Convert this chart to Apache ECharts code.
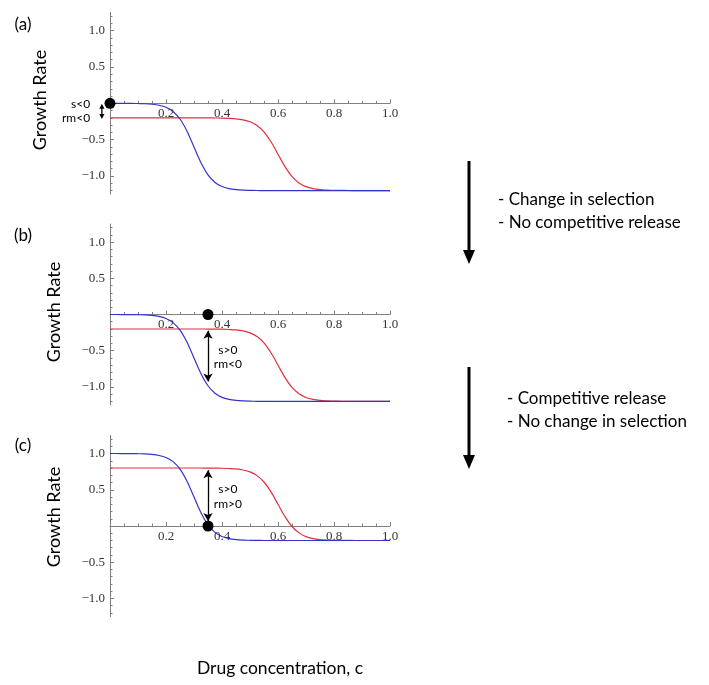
<!DOCTYPE html>
<html>
<head>
<meta charset="utf-8">
<script src="https://cdn.jsdelivr.net/npm/echarts@6/dist/echarts.min.js"></script>
<style>
html,body{margin:0;padding:0;background:#fff;}
#chart{width:709px;height:685px;}
</style>
</head>
<body>
<div id="chart"></div>
<script>
// ---- data ----
const concentration = [0, 0.025, 0.05, 0.075, 0.1, 0.125, 0.15, 0.175, 0.2, 0.225, 0.25, 0.275, 0.3, 0.325, 0.35, 0.375, 0.4, 0.425, 0.45, 0.475, 0.5, 0.525, 0.55, 0.575, 0.6, 0.625, 0.65, 0.675, 0.7, 0.725, 0.75, 0.775, 0.8, 0.825, 0.85, 0.875, 0.9, 0.925, 0.95, 0.975, 1.0];
// panels (a) and (b)
const blueAB = [0, 0, -0.001, -0.001, -0.003, -0.006, -0.013, -0.027, -0.055, -0.112, -0.216, -0.383, -0.6, -0.817, -0.984, -1.088, -1.145, -1.173, -1.187, -1.194, -1.197, -1.199, -1.2, -1.2, -1.2, -1.2, -1.2, -1.2, -1.2, -1.2, -1.2, -1.2, -1.2, -1.2, -1.2, -1.2, -1.2, -1.2, -1.2, -1.2, -1.2];
const redAB = [-0.2, -0.2, -0.2, -0.2, -0.2, -0.2, -0.2, -0.2, -0.2, -0.2, -0.2, -0.2, -0.2, -0.2, -0.201, -0.202, -0.203, -0.207, -0.213, -0.227, -0.254, -0.305, -0.393, -0.529, -0.7, -0.871, -1.007, -1.095, -1.146, -1.173, -1.187, -1.193, -1.197, -1.198, -1.199, -1.2, -1.2, -1.2, -1.2, -1.2, -1.2];
// panel (c)
const blueC = [1.0, 1.0, 0.999, 0.999, 0.997, 0.994, 0.987, 0.973, 0.945, 0.888, 0.784, 0.617, 0.4, 0.183, 0.016, -0.088, -0.145, -0.173, -0.187, -0.194, -0.197, -0.199, -0.2, -0.2, -0.2, -0.2, -0.2, -0.2, -0.2, -0.2, -0.2, -0.2, -0.2, -0.2, -0.2, -0.2, -0.2, -0.2, -0.2, -0.2, -0.2];
const redC = [0.8, 0.8, 0.8, 0.8, 0.8, 0.8, 0.8, 0.8, 0.8, 0.8, 0.8, 0.8, 0.8, 0.8, 0.799, 0.798, 0.797, 0.793, 0.787, 0.773, 0.746, 0.695, 0.607, 0.471, 0.3, 0.129, -0.007, -0.095, -0.146, -0.173, -0.187, -0.193, -0.197, -0.198, -0.199, -0.2, -0.2, -0.2, -0.2, -0.2, -0.2];
// black dots
const dotA = [0, 0];
const dotB = [0.35, 0];
const dotC = [0.35, 0];
// annotation arrows [x, yStart, yEnd]
const arrowA = [-0.029, -0.005, -0.215];
const arrowB = [0.35, -0.225, -0.925];
const arrowC = [0.35, 0.77, 0.07];
// tick labels
const xTicks = [0.2, 0.4, 0.6, 0.8, 1.0];
const yTicks = [-1.0, -0.5, 0.5, 1.0];
const yMinorTicks = [-1.2, -1.1, -0.9, -0.8, -0.7, -0.6, -0.4, -0.3, -0.2, -0.1, 0.1, 0.2, 0.3, 0.4, 0.6, 0.7, 0.8, 0.9, 1.1, 1.2];
const panelLabels = ['(a)', '(b)', '(c)'];
const annotationText = [['s<0', 'rm<0'], ['s>0', 'rm<0'], ['s>0', 'rm>0']];
const stepText = [['- Change in selection', '- No competitive release'], ['- Competitive release', '- No change in selection']];

const BLUE = '#3434cc';
const RED = '#e0303f';
const AXIS = '#808080';
const SERIF = '"Liberation Serif", "DejaVu Serif", serif';
const SANS = 'Lato, "Open Sans", sans-serif';
const Y_MIN = -1.25, Y_MAX = 1.25;

const grids = [
  {left: 110, width: 280, top: 12.4, height: 181.8},
  {left: 110, width: 280, top: 224.0, height: 181.0},
  {left: 110, width: 280, top: 435.4, height: 181.2}
];

function fmt(v) {
  if (Math.abs(v) < 1e-9) return '';
  const s = Math.abs(v).toFixed(1);
  return v < 0 ? '\u2212' + s : s;
}

const xAxes = [], yAxes = [], series = [];
const curves = [[blueAB, redAB], [blueAB, redAB], [blueC, redC]];
const dots = [dotA, dotB, dotC];
const arrows = [arrowA, arrowB, arrowC];

grids.forEach((g, i) => {
  // place the x axis at y = 0 of the value range
  const zeroOffset = -g.height * (0 - Y_MIN) / (Y_MAX - Y_MIN);
  xAxes.push({
    gridIndex: i, type: 'value', min: 0, max: 1, interval: 0.2,
    position: 'bottom', offset: zeroOffset,
    axisLine: {onZero: false, lineStyle: {color: AXIS, width: 1}},
    axisTick: {show: true, inside: true, length: 4, lineStyle: {color: AXIS}},
    minorTick: {show: true, splitNumber: 4, length: 2.5, lineStyle: {color: AXIS}},
    axisLabel: {
      customValues: xTicks, formatter: fmt, margin: 4,
      fontFamily: SERIF, fontSize: 13, color: '#333'
    },
    splitLine: {show: false}
  });
  yAxes.push({
    gridIndex: i, type: 'value', min: Y_MIN, max: Y_MAX, interval: 0.25,
    position: 'left', offset: 0,
    axisLine: {onZero: false, lineStyle: {color: AXIS, width: 1}},
    axisTick: {show: true, inside: true, length: 4, customValues: yTicks, lineStyle: {color: AXIS}},
    axisLabel: {
      customValues: yTicks, formatter: fmt, margin: 5,
      fontFamily: SERIF, fontSize: 13, color: '#333'
    },
    splitLine: {show: false}
  });
  yAxes.push({
    gridIndex: i, type: 'value', min: Y_MIN, max: Y_MAX, interval: 0.25,
    position: 'left', offset: 0,
    axisLine: {show: false, onZero: false},
    axisTick: {show: true, inside: true, length: 2.5, customValues: yMinorTicks, lineStyle: {color: AXIS}},
    axisLabel: {show: false},
    splitLine: {show: false}
  });
  const [blue, red] = curves[i];
  series.push({
    type: 'line', xAxisIndex: i, yAxisIndex: 2 * i, showSymbol: false, smooth: 0.3,
    data: concentration.map((c, k) => [c, red[k]]),
    lineStyle: {color: RED, width: 1.2}, animation: false, silent: true, z: 2
  });
  series.push({
    type: 'line', xAxisIndex: i, yAxisIndex: 2 * i, showSymbol: false, smooth: 0.3,
    data: concentration.map((c, k) => [c, blue[k]]),
    lineStyle: {color: BLUE, width: 1.2}, animation: false, silent: true, z: 3
  });
  const a = arrows[i];
  const dotSeries = {
    type: 'scatter', xAxisIndex: i, yAxisIndex: 2 * i, clip: false,
    data: [dots[i]], symbolSize: 11, itemStyle: {color: '#000', opacity: 1},
    animation: false, silent: true, z: 5
  };
  if (i > 0) {
    dotSeries.markLine = {
      silent: true, animation: false,
      symbol: ['arrow', 'arrow'], symbolSize: [7, 8],
      lineStyle: {color: '#000', width: 1.3, type: 'solid', opacity: 1},
      itemStyle: {color: '#000', opacity: 1},
      label: {show: false},
      data: [[{coord: [a[0], a[1]]}, {coord: [a[0], a[2]]}]]
    };
  }
  series.push(dotSeries);
});

const chart = echarts.init(document.getElementById('chart'), null, {renderer: 'canvas'});
chart.setOption({
  animation: false,
  backgroundColor: '#fff',
  grid: grids,
  xAxis: xAxes,
  yAxis: yAxes,
  series: series
});

const graphics = [];
// small double arrow of panel (a), which lies left of the plotted range
{
  const p0 = chart.convertToPixel({gridIndex: 0}, [arrowA[0], arrowA[1]]);
  const p1 = chart.convertToPixel({gridIndex: 0}, [arrowA[0], arrowA[2]]);
  const h = 5, w = 2.6;
  graphics.push({type: 'line', silent: true, z: 10,
    shape: {x1: p0[0], y1: p0[1] + h - 1, x2: p1[0], y2: p1[1] - h + 1},
    style: {stroke: '#000', lineWidth: 1.3}});
  graphics.push({type: 'polygon', silent: true, z: 10,
    shape: {points: [[p0[0], p0[1]], [p0[0] - w, p0[1] + h], [p0[0] + w, p0[1] + h]]}, style: {fill: '#000'}});
  graphics.push({type: 'polygon', silent: true, z: 10,
    shape: {points: [[p1[0], p1[1]], [p1[0] - w, p1[1] - h], [p1[0] + w, p1[1] - h]]}, style: {fill: '#000'}});
}
// annotations placed through the chart's own coordinate system
const annotPos = [
  {x: -0.071, y: [-0.01, -0.2], align: 'right'},
  {x: 0.421, y: [-0.49, -0.68], align: 'center'},
  {x: 0.421, y: [0.51, 0.30], align: 'center'}
];
annotPos.forEach((p, i) => {
  p.y.forEach((yv, j) => {
    const pt = chart.convertToPixel({gridIndex: i}, [p.x, yv]);
    graphics.push({
      type: 'text', x: pt[0], y: pt[1], silent: true,
      style: {text: annotationText[i][j], fontFamily: SANS, fontSize: 12, fill: '#000',
              align: p.align, verticalAlign: 'middle'}
    });
  });
});
// panel labels and axis titles
const panelLabelY = [25, 236, 446];
const titleX = [40, 54, 54];
const titleY = [100, 312, 517];
panelLabels.forEach((t, i) => {
  graphics.push({type: 'text', x: 23, y: panelLabelY[i], silent: true,
    style: {text: t, fontFamily: SANS, fontSize: 17, fill: '#000', align: 'center', verticalAlign: 'middle'}});
  graphics.push({type: 'text', x: titleX[i], y: titleY[i], rotation: Math.PI / 2, silent: true,
    style: {text: 'Growth Rate', fontFamily: SANS, fontSize: 18, fill: '#000', align: 'center', verticalAlign: 'middle'}});
});
graphics.push({type: 'text', x: 280, y: 668, silent: true,
  style: {text: 'Drug concentration, c', fontFamily: SANS, fontSize: 17.5, fill: '#000', align: 'center', verticalAlign: 'middle'}});
// big step arrows with captions
const stepArrows = [{x: 469, y0: 161, y1: 264, tx: 498, ty: [200, 223]}, {x: 469, y0: 367, y1: 469, tx: 507, ty: [399, 422]}];
stepArrows.forEach((s, i) => {
  graphics.push({type: 'line', silent: true, shape: {x1: s.x, y1: s.y0, x2: s.x, y2: s.y1 - 10},
    style: {stroke: '#000', lineWidth: 3}});
  graphics.push({type: 'polygon', silent: true,
    shape: {points: [[s.x - 6, s.y1 - 14], [s.x + 6, s.y1 - 14], [s.x, s.y1]]}, style: {fill: '#000'}});
  stepText[i].forEach((t, j) => {
    graphics.push({type: 'text', x: s.tx, y: s.ty[j], silent: true,
      style: {text: t, fontFamily: SANS, fontSize: 17, fill: '#000', align: 'left', verticalAlign: 'middle'}});
  });
});
chart.setOption({graphic: graphics});
</script>
</body>
</html>
